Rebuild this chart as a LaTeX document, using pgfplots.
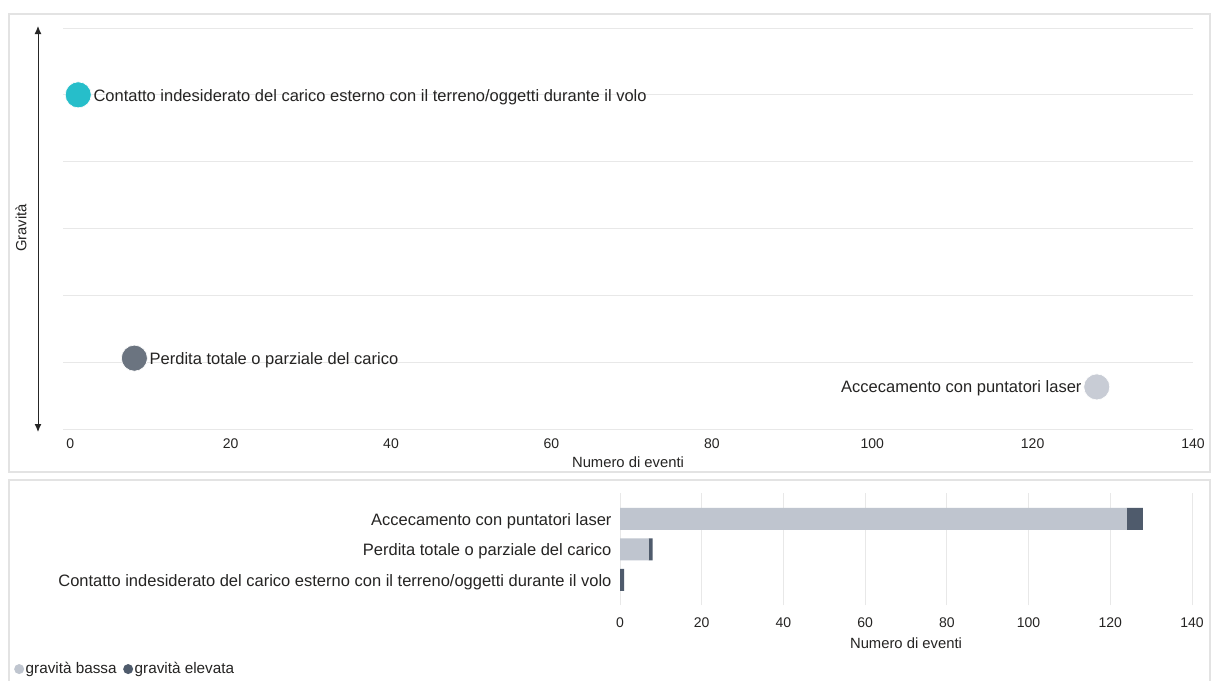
\documentclass[border=0pt]{standalone}
\usepackage{pgfplots}
\pgfplotsset{compat=1.18}
\usepackage{fontspec}
\setmainfont{Liberation Sans}
\usetikzlibrary{arrows.meta}
\definecolor{cteal}{HTML}{26BECA}
\definecolor{cmid}{HTML}{6B7480}
\definecolor{clight}{HTML}{C8CCD5}
\definecolor{barlight}{HTML}{BFC5CF}
\definecolor{bardark}{HTML}{4F5B6C}
\definecolor{gridc}{HTML}{E8E8E8}
\definecolor{boxc}{HTML}{E3E3E3}
\definecolor{txt}{HTML}{252423}
\newcommand{\lab}{\fontsize{16.5}{19}\selectfont}
\newcommand{\tck}{\fontsize{14}{16}\selectfont}
\newcommand{\ttl}{\fontsize{14.8}{17}\selectfont}
\newcommand{\lgd}{\fontsize{15.3}{17}\selectfont}
\begin{document}
\begin{tikzpicture}
\useasboundingbox (0pt,0pt) rectangle (1212pt,-680pt);
\fill[white] (0pt,0pt) rectangle (1212pt,-680pt);
% panel borders
\draw[boxc, line width=1.2pt] (9pt,-14pt) rectangle (1210pt,-472pt);
\draw[boxc, line width=1.2pt] (9pt,-690pt) -- (9pt,-480pt) -- (1210pt,-480pt) -- (1210pt,-690pt);
% top panel
\begin{axis}[
  at={(63pt,-429pt)}, anchor=south west,
  width=1130pt, height=401pt, scale only axis,
  xmin=-0.9, xmax=140, ymin=0, ymax=6,
  xtick={0,20,...,140}, ytick={0,1,...,6}, yticklabels={},
  ymajorgrids, grid style={gridc, line width=0.9pt},
  axis line style={draw=none}, tick style={draw=none},
  /pgf/number format/assume math mode=true,
  xticklabel style={font=\tck, text=txt, yshift=-6pt},
  xlabel={Numero di eventi},
  xlabel style={font=\ttl, text=txt, at={(axis description cs:0.5,0)}, anchor=center, yshift=-33pt},
  clip=false,
  every node near coord/.append style={font=\lab, text=txt, inner sep=0pt},
]
\addplot[only marks, mark=*, mark size=13pt, mark options={fill=cteal, draw=white, line width=0.6pt},
  nodes near coords={Contatto indesiderato del carico esterno con il terreno/oggetti durante il volo},
  every node near coord/.append style={anchor=west, xshift=15pt, yshift=-2pt}]
  coordinates {(1,5)};
\addplot[only marks, mark=*, mark size=13pt, mark options={fill=cmid, draw=white, line width=0.6pt},
  nodes near coords={Perdita totale o parziale del carico},
  every node near coord/.append style={anchor=west, xshift=15pt, yshift=-2pt}]
  coordinates {(8,1.06)};
\addplot[only marks, mark=*, mark size=13pt, mark options={fill=clight, draw=white, line width=0.6pt},
  nodes near coords={Accecamento con puntatori laser},
  every node near coord/.append style={anchor=east, xshift=-15pt, yshift=-1pt}]
  coordinates {(128,0.63)};
\end{axis}
\draw[black!85, line width=1pt, {Latex[length=8pt,width=7pt]}-{Latex[length=8pt,width=7pt]}] (38pt,-26pt) -- (38pt,-432pt);
\node[rotate=90, font=\ttl, text=txt] at (21pt,-228pt) {Gravità};
% bottom panel
\begin{axis}[
  at={(620pt,-605pt)}, anchor=south west,
  width=572pt, height=112pt, scale only axis,
  xbar stacked, bar width=22pt,
  xmin=0, xmax=140, ymin=-0.82, ymax=2.85,
  xtick={0,20,...,140}, ytick={0,1,2},
  yticklabels={Contatto indesiderato del carico esterno con il terreno/oggetti durante il volo, Perdita totale o parziale del carico, Accecamento con puntatori laser},
  xmajorgrids, grid style={gridc, line width=0.9pt},
  axis line style={draw=none}, tick style={draw=none},
  /pgf/number format/assume math mode=true,
  xticklabel style={font=\tck, text=txt, yshift=-9pt},
  yticklabel style={font=\lab, text=txt, xshift=-5pt, yshift=-2pt},
  xlabel={Numero di eventi},
  xlabel style={font=\ttl, text=txt, at={(axis description cs:0.5,0)}, anchor=center, yshift=-38pt},
  clip=false,
  legend columns=2,
  legend style={at={(axis description cs:-1.0595,-0.572)}, anchor=west, draw=none, fill=none,
    font=\lgd, text=txt, inner sep=0pt, nodes={inner sep=1.5pt},
    /tikz/every even column/.append style={column sep=5pt}},
  legend image code/.code={\fill[#1, draw=none] (5pt,0pt) circle (5pt);},
]
\addplot[fill=barlight, draw=none] coordinates {(0,0) (7,1) (124,2)};
\addplot[fill=bardark, draw=none] coordinates {(1,0) (1,1) (4,2)};
\legend{gravità bassa, gravità elevata}
\end{axis}
\end{tikzpicture}
\end{document}
